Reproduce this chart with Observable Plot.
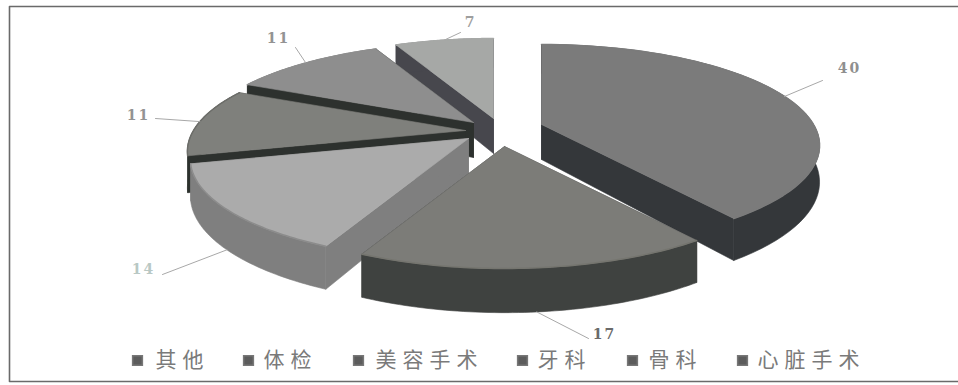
<!DOCTYPE html>
<html>
<head>
<meta charset="utf-8">
<script src="https://cdn.jsdelivr.net/npm/d3@7"></script>
<script src="https://cdn.jsdelivr.net/npm/@observablehq/plot@0.6"></script>
<style>
  html, body { margin: 0; padding: 0; background: #fff; }
  svg { display: block; }
  .value-label text { letter-spacing: 2px; }
  .legend-label text { letter-spacing: 6px; }
</style>
</head>
<body>
<div id="chart"></div>
<script>
// Chart data
const categories = ["其他", "体检", "美容手术", "牙科", "骨科", "心脏手术"];
const values = [40, 17, 14, 11, 11, 7];

// Slice styling, in the same order as the categories
const topColors = ["#7b7b7b", "#7c7c78", "#ababab", "#7f807c", "#8e8e8e", "#a6a8a6"];
const wallColors = ["#34373a", "#3f4240", "#7f7f7f", "#2d312e", "#2d312e", "#47474d"];
const rimColors = ["#7b7b7b", "#75756f", "#8c8c8c", "#6c6d69", "#8e8e8e", "#a6a8a6"];
const labelColors = ["#8f8f8f", "#6a6a6a", "#b9c8c4", "#939393", "#939393", "#9e9e9e"];

// Where each exploded slice's tip lands, and how each leader line runs
const tips = [[541, 124], [504, 146], [468, 138], [465, 130], [473, 122], [493, 118]];
const leaderElbows = [[822, 80], [588, 338], [162, 274], [155, 118], [295, 47], [460, 32]];
const labelSpots = [[849, 68], [604, 334], [143, 269], [138, 115], [278, 38], [470, 22]];

// Perspective disc parameters
const radiusX = 272, radiusY = 96.6, perspective = 0.208, thickness = 35;

const slices = d3.pie().sort(null)(values);

// Projects an angle on the disc, measured clockwise from 12 o'clock
function project(tip, angle, radial = 1, drop = 0) {
  const u = Math.sin(angle) * radial, v = Math.cos(angle) * radial;
  const w = 1 + perspective * v;
  return {
    x: tip[0] + radiusX * u / w,
    y: tip[1] - radiusY * v / w + drop * thickness / w
  };
}

function arcPoints(tip, a0, a1, drop = 0) {
  return d3.range(0, 61).map(i => project(tip, a0 + (a1 - a0) * i / 60, 1, drop));
}

const marks = [];
const polygon = (points, color) =>
  marks.push(Plot.line([...points, points[0]], {
    x: "x", y: "y", fill: color, stroke: color, strokeWidth: 0.6, curve: "linear"
  }));

// Painted from back to front so nearer slices cover the farther ones
for (const i of [5, 4, 3, 2, 0, 1]) {
  const tip = tips[i], s = slices[i];
  const topTip = project(tip, 0, 0, 0), lowTip = project(tip, 0, 0, 1);
  for (const a of [s.startAngle, s.endAngle]) {
    polygon([topTip, project(tip, a), project(tip, a, 1, 1), lowTip], wallColors[i]);
  }
  polygon([...arcPoints(tip, s.startAngle, s.endAngle),
           ...arcPoints(tip, s.startAngle, s.endAngle, 1).reverse()], wallColors[i]);
  polygon([topTip, ...arcPoints(tip, s.startAngle, s.endAngle)], topColors[i]);
  marks.push(Plot.line(arcPoints(tip, s.startAngle, s.endAngle), {
    x: "x", y: "y", stroke: rimColors[i], strokeWidth: 1.5
  }));
}

// Leader lines start on the outer edge at each slice's middle angle
slices.forEach((s, i) => {
  const mid = (s.startAngle + s.endAngle) / 2;
  const front = Math.abs(mid - Math.PI) < Math.PI / 2;
  const start = project(tips[i], mid, 1, front ? 1 : 0);
  const elbow = {x: leaderElbows[i][0], y: leaderElbows[i][1]};
  marks.push(Plot.line([start, elbow], {x: "x", y: "y", stroke: "#a8a8a8", strokeWidth: 1}));
});

const valueLabels = values.map((v, i) => ({v, x: labelSpots[i][0], y: labelSpots[i][1], c: labelColors[i]}));
for (const d of valueLabels) {
  marks.push(Plot.text([d], {
    x: "x", y: "y", text: e => String(e.v), fill: d.c,
    fontFamily: "DejaVu Serif", fontWeight: "bold", fontSize: 14,
    className: "value-label"
  }));
}

// Legend row
const legendSwatchX = [137, 248, 358, 522, 632, 742];
const legendTextX = [155, 263, 375, 537, 648, 757];
const legendY = 360;
marks.push(Plot.dot(legendSwatchX.map(x => ({x})), {
  x: "x", y: () => legendY, symbol: "square", r: 5.5, fill: "#5c5c5c", stroke: "#777"
}));
marks.push(Plot.text(categories.map((c, i) => ({c, x: legendTextX[i]})), {
  x: "x", y: () => legendY, text: "c", textAnchor: "start", fill: "#7a7a7a",
  fontFamily: "Noto Sans CJK SC", fontSize: 21,
  className: "legend-label"
}));

// Outer border: left, top and bottom edges of the chart area
const borderLeft = 9, borderTop = 6, borderBottom = 381, borderRight = 958;
marks.push(Plot.line(
  [{x: borderRight, y: borderTop}, {x: borderLeft, y: borderTop},
   {x: borderLeft, y: borderBottom}, {x: borderRight, y: borderBottom}],
  {x: "x", y: "y", stroke: "#6a6a6a", strokeWidth: 1.6}
));

const chart = Plot.plot({
  width: 958, height: 385,
  marginLeft: 0, marginRight: 0, marginTop: 0, marginBottom: 0,
  x: {domain: [0, 958], range: [0, 958], axis: null},
  y: {domain: [0, 385], range: [0, 385], axis: null},
  style: {background: "#fff"},
  marks
});
document.getElementById("chart").append(chart);
</script>
</body>
</html>
